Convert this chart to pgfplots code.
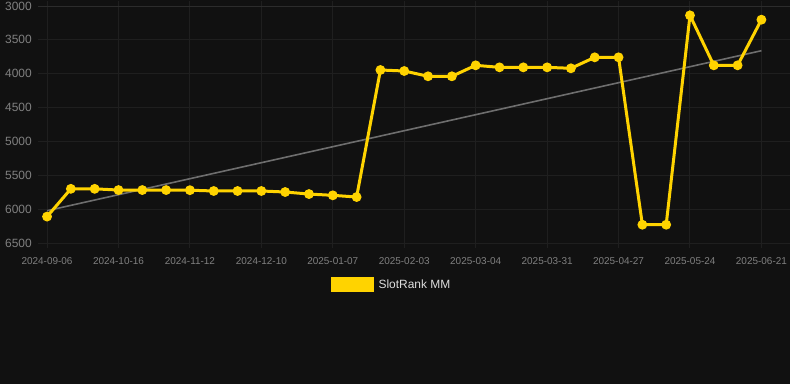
\documentclass[border=0pt]{standalone}
\usepackage{fontspec}
\setmainfont{Liberation Sans}
\usepackage{pgfplots}
\pgfplotsset{compat=1.18}
\definecolor{bg}{HTML}{111111}
\definecolor{gridc}{HTML}{1F1F1F}
\definecolor{axc}{HTML}{2C2C2C}
\definecolor{tickc}{HTML}{808080}
\definecolor{legc}{HTML}{DDDDDD}
\definecolor{yel}{HTML}{FFD300}
\definecolor{trend}{HTML}{6E6E6E}
\begin{document}
\begin{tikzpicture}
\fill[bg] (0,0) rectangle (790bp,384bp);
\useasboundingbox (0,0) rectangle (790bp,384bp);
\begin{axis}[at={(38bp,141bp)}, anchor=south west, scale only axis,
  width=752bp, height=237bp,
  xmin=-0.38, xmax=31.2, ymin=3000, ymax=6500, y dir=reverse,
  xtick={0,3,...,30},
  xticklabels={2024-09-06,2024-10-16,2024-11-12,2024-12-10,2025-01-07,2025-02-03,2025-03-04,2025-03-31,2025-04-27,2025-05-24,2025-06-21},
  ytick={3000,3500,...,6500},
  scaled ticks=false,
  /pgf/number format/1000 sep={},
  /pgf/number format/assume math mode=true,
  grid=major, major grid style={gridc, line width=1bp},
  axis line style={draw=none},
  tick align=outside, major tick length=5bp,
  xtick style={gridc, line width=1bp}, ytick style={draw=none},
  xticklabel style={font=\fontsize{10}{12}\selectfont, text=tickc, inner sep=0pt, anchor=north, yshift=-9bp},
  yticklabel style={font=\fontsize{12}{14}\selectfont, text=tickc, inner sep=0pt, anchor=east, xshift=-1bp},
  legend style={at={(0.47,-0.177)}, anchor=center, draw=none, fill=none, text=legc,
    font=\fontsize{12}{14}\selectfont, /tikz/every odd column/.style={column sep=3bp}},
  legend image code/.code={\fill[yel] (0bp,-6bp) rectangle (40bp,6bp);},
  clip=false,
]
\draw[axc, line width=1bp] (rel axis cs:0,1) -- (rel axis cs:1,1);
\addplot[trend, line width=1.6bp, forget plot] coordinates {(0,6023) (30,3660)};
\addplot[yel, line width=3bp, mark=*, mark size=4.3bp, mark options={fill=yel, draw=yel, line width=1.2bp, solid}] coordinates {
(0,6110) (1,5700) (2,5700) (3,5718) (4,5718) (5,5718) (6,5720) (7,5732) (8,5732) (9,5732)
(10,5747) (11,5777) (12,5796) (13,5821) (14,3945) (15,3960) (16,4038) (17,4038) (18,3876) (19,3906)
(20,3906) (21,3906) (22,3920) (23,3758) (24,3758) (25,6230) (26,6230) (27,3138) (28,3876) (29,3876) (30,3202)};
\addlegendentry{SlotRank MM}
\end{axis}
\end{tikzpicture}
\end{document}
